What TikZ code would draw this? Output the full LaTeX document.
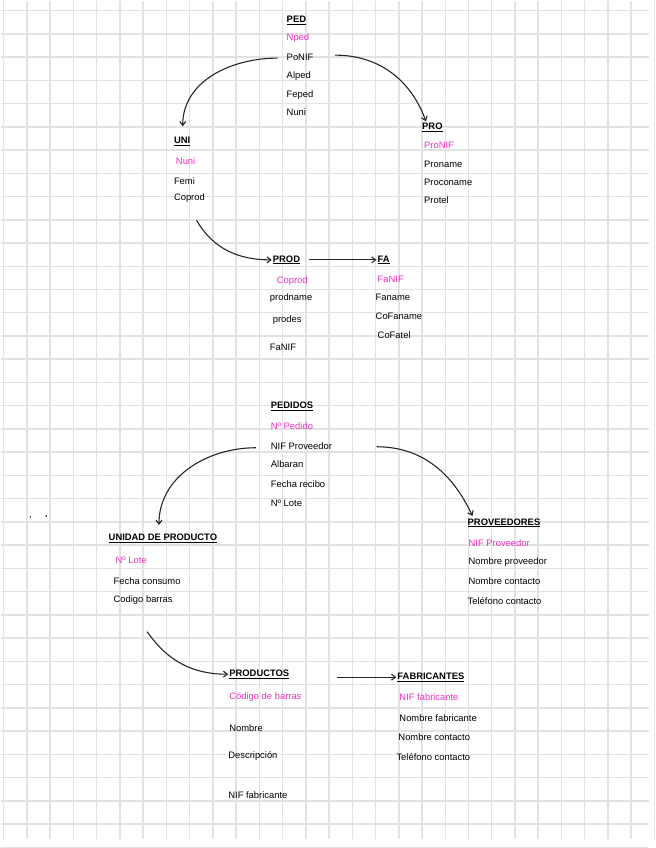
\documentclass[tikz,border=0pt]{standalone}
\usepackage{fontspec}
\setmainfont{Liberation Sans}
\usetikzlibrary{arrows.meta}
\definecolor{pk}{HTML}{F030C0}
\definecolor{gridc}{HTML}{E2E2E2}
\begin{document}
\begin{tikzpicture}[x=1pt,y=-1pt,
  t/.style={anchor=west,inner sep=1pt,font=\fontsize{9.5}{10}\selectfont},
  key/.style={t,text=pk},
  hd/.style={t,font=\fontsize{9.5}{10}\selectfont\bfseries},
  arr/.style={-{Straight Barb[length=4pt,width=6pt]},line width=1.1pt,black!85}]
\fill[white] (0,0) rectangle (656,848);
\foreach \i in {0,...,28} \draw[gridc,line width=1.5pt] (3+\i*23.5,0) -- (3+\i*23.5,848);
\foreach \i in {0,...,36} \draw[gridc,line width=1.5pt] (0,10+\i*23.5) -- (656,10+\i*23.5);
\useasboundingbox (0,0) rectangle (656,848);
\newcommand{\hdr}[4]{\node[hd] (#1) at (#2,#3) {\underline{#4}};}
% top
\hdr{ped}{288}{20}{PED}
\node[key] (nped) at (288,38) {Nped};
\node[t] (ponif) at (288,57) {PoNIF};
\node[t] at (288,76) {Alped};
\node[t] at (288,95) {Feped};
\node[t] at (288,113) {Nuni};
\hdr{uni}{174}{142}{UNI}
\node[key] at (176,162) {Nuni};
\node[t] at (174,182) {Femi};
\node[t] (coprod1) at (174,200) {Coprod};
\hdr{pro}{425}{128}{PRO}
\node[key] at (427,146) {ProNIF};
\node[t] at (427,165) {Proname};
\node[t] at (427,184) {Proconame};
\node[t] at (427,202) {Protel};
\hdr{prod}{274}{262}{PROD}
\node[key] at (278,283) {Coprod};
\node[t] at (271,301) {prodname};
\node[t] at (274,323) {prodes};
\node[t] at (271,350) {FaNIF};
\hdr{fa}{380}{262}{FA}
\node[key] at (380,282) {FaNIF};
\node[t] at (378,300) {Faname};
\node[t] at (378,319) {CoFaname};
\node[t] at (380,338) {CoFatel};
\coordinate (a1) at (280,58); \coordinate (a2) at (338,55);
\coordinate (a3) at (198,222);
\draw[arr] (a1) to[out=180,in=90] (184,127);
\draw[arr] (a2) to[out=0,in=110] (430,122);
\draw[arr] (a3) to[out=-60,in=180] (prod.west);
\draw[arr] (prod.east) ++(8,0) -- (fa.west);
% bottom
\hdr{pedidos}{272}{410}{PEDIDOS}
\node[key] at (272,430) {Nº Pedido};
\node[t] (nifp) at (272,450) {NIF Proveedor};
\node[t] at (272,469) {Albaran};
\node[t] at (272,489) {Fecha recibo};
\node[t] at (272,508) {Nº Lote};
\fill (30,522) circle (0.8) (46,521) circle (0.8);
\hdr{udp}{108}{544}{UNIDAD DE PRODUCTO}
\node[key] at (115,566) {Nº Lote};
\node[t] at (113,587) {Fecha consumo};
\node[t] (cb) at (113,606) {Codigo barras};
\hdr{prov}{471}{528}{PROVEEDORES}
\node[key] at (472,548) {NIF Proveedor};
\node[t] at (472,568) {Nombre proveedor};
\node[t] at (472,587) {Nombre contacto};
\node[t] at (471,607) {Teléfono contacto};
\hdr{prods}{230}{681}{PRODUCTOS}
\node[key] at (230,704) {Código de barras};
\node[t] at (230,736) {Nombre};
\node[t] at (229,764) {Descripción};
\node[t] at (229,803) {NIF fabricante};
\hdr{fab}{400}{684}{FABRICANTES}
\node[key] at (402,704) {NIF fabricante};
\node[t] at (402,725) {Nombre fabricante};
\node[t] at (401,745) {Nombre contacto};
\node[t] at (399,765) {Teléfono contacto};
\coordinate (b1) at (258,452); \coordinate (b2) at (380,451); \coordinate (b3) at (148,638);
\draw[arr] (b1) to[out=180,in=90] (160,530);
\draw[arr] (b2) to[out=0,in=115] (477,521);
\draw[arr] (b3) to[out=-55,in=180] (prods.west);
\draw[arr] (340,684) -- (fab.west);
\end{tikzpicture}
\end{document}
